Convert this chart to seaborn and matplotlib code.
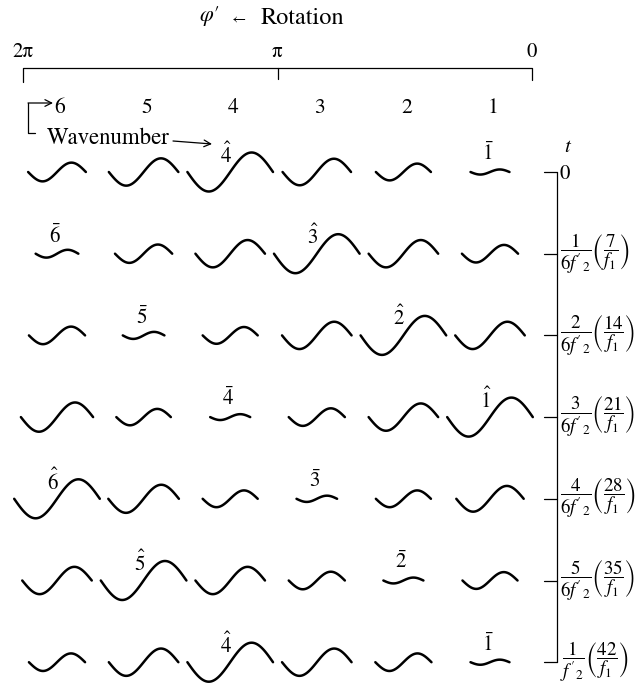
import numpy as np
import pandas as pd
import matplotlib
matplotlib.use("Agg")
import matplotlib.pyplot as plt
import seaborn as sns

sns.set_theme(style="white")
plt.rcParams["font.family"] = ["STIXGeneral", "DejaVu Serif"]
plt.rcParams["mathtext.fontset"] = "stix"

# Wavenumbers shown from left (phase 2*pi) to right (phase 0)
wavenumbers = [6, 5, 4, 3, 2, 1]

# Time steps (rows) and their labels on the right-hand time axis
time_labels = [
    "0",
    r"$\dfrac{1}{6f'_{2}}\left(\dfrac{7}{f_{1}}\right)$",
    r"$\dfrac{2}{6f'_{2}}\left(\dfrac{14}{f_{1}}\right)$",
    r"$\dfrac{3}{6f'_{2}}\left(\dfrac{21}{f_{1}}\right)$",
    r"$\dfrac{4}{6f'_{2}}\left(\dfrac{28}{f_{1}}\right)$",
    r"$\dfrac{5}{6f'_{2}}\left(\dfrac{35}{f_{1}}\right)$",
    r"$\dfrac{1}{f'_{2}}\left(\dfrac{42}{f_{1}}\right)$",
]

# Relative amplitude of each wavenumber (columns 6..1) at each time step
amp_t0 = [0.48, 0.70, 1.00, 0.68, 0.43, 0.13]
amp_t1 = [0.20, 0.47, 0.70, 1.00, 0.70, 0.45]
amp_t2 = [0.45, 0.18, 0.43, 0.70, 1.00, 0.70]
amp_t3 = [0.75, 0.42, 0.15, 0.45, 0.70, 1.00]
amp_t4 = [1.00, 0.72, 0.43, 0.16, 0.43, 0.66]
amp_t5 = [0.70, 1.00, 0.70, 0.45, 0.15, 0.43]
amp_t6 = [0.45, 0.70, 1.00, 0.70, 0.45, 0.13]
amplitudes = [amp_t0, amp_t1, amp_t2, amp_t3, amp_t4, amp_t5, amp_t6]

# Wavenumber of the growing (hat) and decaying (bar) component at each time step
hat_wave = [4, 3, 2, 1, 6, 5, 4]
bar_wave = [1, 6, 5, 4, 3, 2, 1]

# ---- layout (figure drawn in pixel units) ----
W, H = 640, 688
COL_RIGHT, COL_STEP = 490.0, 86.6
ROW_TOP, ROW_STEP = 172.0, 81.7
AMP_PX = 19.5
X_ZERO, X_TWO_PI, BRACKET_Y = 532.0, 23.0, 68.0
T_AXIS_X = 557.0


def col_x(k):
    return COL_RIGHT - (k - 1) * COL_STEP


def row_y(i):
    return ROW_TOP + i * ROW_STEP


def phi_x(phi_over_pi):
    return X_ZERO - phi_over_pi / 2.0 * (X_ZERO - X_TWO_PI)


# Build one wave segment per (time, wavenumber) cell
theta = np.linspace(0.0, 2.0 * np.pi, 80)
frames = []
for i, row in enumerate(amplitudes):
    for k, a in zip(wavenumbers, row):
        a_px = a * AMP_PX
        width = 32.0 + 2.75 * a_px
        xs = col_x(k) - width / 2 + theta / (2 * np.pi) * width
        ys = row_y(i) + a_px * np.sin(theta)  # y grows downward
        frames.append(pd.DataFrame({"x": xs, "y": ys, "cell": f"{i}-{k}"}))
waves = pd.concat(frames, ignore_index=True)

fig = plt.figure(figsize=(W / 100, H / 100), dpi=100)
ax = fig.add_axes([0, 0, 1, 1])
sns.lineplot(data=waves, x="x", y="y", units="cell", estimator=None, sort=False,
             color="black", linewidth=1.8, ax=ax, legend=False)
ax.set_xlim(0, W)
ax.set_ylim(H, 0)
ax.set_axis_off()

ink = "black"
thin = 0.9

# Rotation phase bracket
ax.text(207, 18, r"$\varphi$", ha="center", va="center", fontsize=16, color=ink)
ax.text(216, 14, "\u2032", ha="center", va="center", fontsize=14, color=ink)
ax.text(239, 19, "\u2190", ha="center", va="center", fontsize=11, color=ink)
ax.text(261, 18, "Rotation", ha="left", va="center", fontsize=17.5, color=ink)
ax.plot([X_TWO_PI, X_TWO_PI, X_ZERO, X_ZERO], [82, BRACKET_Y, BRACKET_Y, 80],
        color=ink, lw=thin)
ax.plot([phi_x(1), phi_x(1)], [BRACKET_Y, 79], color=ink, lw=thin)
for txt, p in [("2\u03c0", 2.0), ("\u03c0", 1.0), ("0", 0.0)]:
    ax.text(phi_x(p), 52, txt, ha="center", va="center", fontsize=15, color=ink)

# Wavenumber header
for k in wavenumbers:
    ax.text(col_x(k) + 3, 108, str(k), ha="center", va="center", fontsize=15.5,
            color=ink)
ax.plot([35, 28, 28], [133, 133, 103], color=ink, lw=thin)
ax.annotate("", xy=(53, 103), xytext=(28, 103),
            arrowprops=dict(arrowstyle="->", lw=thin, color=ink,
                            shrinkA=0, shrinkB=0))
ax.text(47, 138, "Wavenumber", ha="left", va="center", fontsize=16.4, color=ink)
ax.annotate("", xy=(212, 144), xytext=(173, 141),
            arrowprops=dict(arrowstyle="->", lw=thin, color=ink,
                            shrinkA=0, shrinkB=0))

# Hat / bar markers on the strongest and weakest components
for i in range(len(amplitudes)):
    kh, kb = hat_wave[i], bar_wave[i]
    ax.text(col_x(kh) - 4, row_y(i) - 17, rf"$\hat{{{kh}}}$", ha="center",
            va="center", fontsize=15, color=ink)
    ax.text(col_x(kb) - 2, row_y(i) - 18, rf"$\bar{{{kb}}}$", ha="center",
            va="center", fontsize=15, color=ink)

# Time axis on the right
ax.text(568, 147, "$t$", ha="center", va="center", fontsize=15, color=ink)
ax.plot([T_AXIS_X, T_AXIS_X], [row_y(0), row_y(len(time_labels) - 1)],
        color=ink, lw=thin)
for i, lab in enumerate(time_labels):
    y = row_y(i)
    ax.plot([T_AXIS_X - 13, T_AXIS_X], [y, y], color=ink, lw=thin)
    ax.text(T_AXIS_X + 3, y + (2 if i == 0 else 0), lab, ha="left", va="center",
            fontsize=13.6 if i else 15, color=ink)

fig.savefig("out.png", dpi=100, facecolor="white")
